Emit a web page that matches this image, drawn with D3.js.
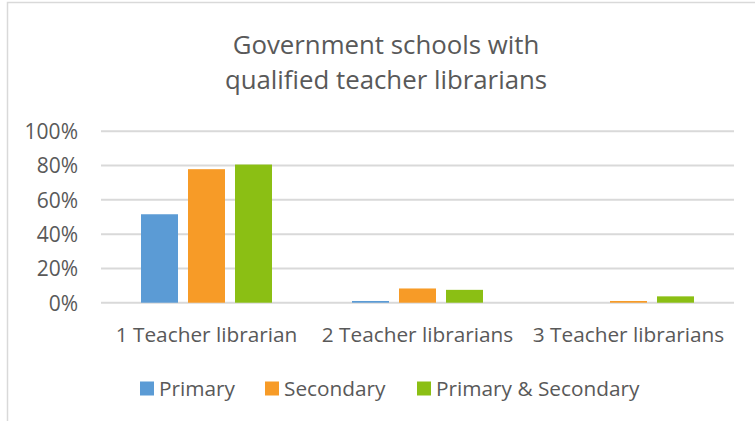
<!DOCTYPE html>
<html>
<head>
<meta charset="utf-8">
<script src="https://cdn.jsdelivr.net/npm/d3@7"></script>
<style>
  html, body { margin: 0; padding: 0; background: #fff; }
  svg { display: block; }
  text { font-family: "Open Sans", Lato, sans-serif; fill: #595959; }
</style>
</head>
<body>
<svg id="chart" width="755" height="421"></svg>
<script>
// Share of government schools by number of qualified teacher librarians
const categories = ["1 Teacher librarian", "2 Teacher librarians", "3 Teacher librarians"];
const seriesNames = ["Primary", "Secondary", "Primary & Secondary"];
const primary = [0.516, 0.010, 0.000];
const secondary = [0.779, 0.083, 0.010];
const primarySecondary = [0.806, 0.075, 0.037];
const yTicks = [0, 0.2, 0.4, 0.6, 0.8, 1.0];
const colors = ["#5b9bd5", "#f79b27", "#8bbf14"];

const seriesValues = [primary, secondary, primarySecondary];
const rows = categories.map((c, i) => ({
  category: c,
  values: seriesNames.map((s, j) => ({ series: s, value: seriesValues[j][i] }))
}));

const svg = d3.select("#chart");

// chart frame
svg.append("path")
  .attr("d", "M7.5,421 V2.5 H755")
  .attr("fill", "none")
  .attr("stroke", "#d9d9d9")
  .attr("stroke-width", 1.5);

// title
const title = svg.append("text")
  .attr("text-anchor", "middle")
  .style("font-size", "25.8px");
title.append("tspan").attr("x", 386).attr("y", 54).text("Government schools with");
title.append("tspan").attr("x", 386).attr("y", 89).text("qualified teacher librarians");

const x0 = d3.scaleBand().domain(categories).range([101, 734]);
const x1 = d3.scaleBand().domain(seriesNames)
  .range([40, x0.bandwidth() - 40])
  .paddingInner(0.2128);
const y = d3.scaleLinear().domain([0, 1]).range([302.7, 131.3]);

// gridlines
svg.append("g")
  .selectAll("line")
  .data(yTicks)
  .join("line")
  .attr("x1", 101).attr("x2", 734)
  .attr("y1", d => y(d)).attr("y2", d => y(d))
  .attr("stroke", "#d9d9d9")
  .attr("stroke-width", 2);

// y axis labels
const yAxis = d3.axisLeft(y).tickValues(yTicks).tickFormat(d3.format(".0%")).tickSize(0).tickPadding(0);
const yg = svg.append("g").attr("transform", "translate(78,0)").call(yAxis);
yg.select(".domain").remove();
yg.selectAll("text").attr("fill", null).style("font-size", "21px").attr("dy", "0.35em");

// bars
const groups = svg.append("g")
  .selectAll("g")
  .data(rows)
  .join("g")
  .attr("transform", d => `translate(${x0(d.category)},0)`);

groups.selectAll("rect")
  .data(d => d.values)
  .join("rect")
  .attr("x", d => x1(d.series))
  .attr("width", x1.bandwidth())
  .attr("y", d => y(d.value))
  .attr("height", d => y(0) - y(d.value))
  .attr("fill", (d, i) => colors[i]);

// category axis labels
const xAxis = d3.axisBottom(x0).tickSize(0).tickPadding(0);
const xg = svg.append("g").attr("transform", "translate(0,335)").call(xAxis);
xg.select(".domain").remove();
xg.selectAll("text").attr("fill", null).attr("dy", "0.35em").style("font-size", "20.8px");

// legend
const legendX = [140, 265, 417];
const legend = svg.append("g")
  .selectAll("g")
  .data(seriesNames)
  .join("g")
  .attr("transform", (d, i) => `translate(${legendX[i]},381.5)`);
legend.append("rect").attr("width", 14).attr("height", 14).attr("fill", (d, i) => colors[i]);
legend.append("text")
  .attr("x", 19).attr("y", 7).attr("dy", "0.35em")
  .style("font-size", "20.8px")
  .text(d => d);
</script>
</body>
</html>
